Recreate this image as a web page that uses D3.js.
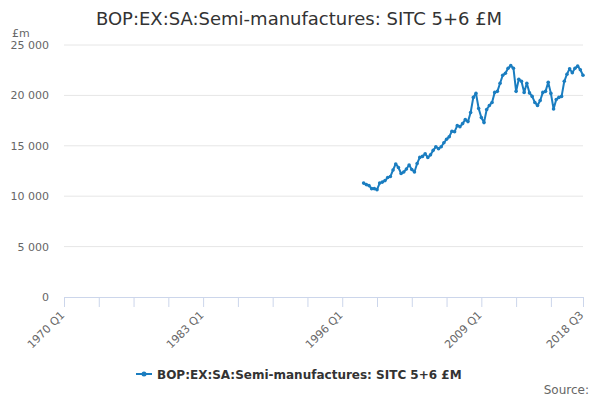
<!DOCTYPE html>
<html><head><meta charset="utf-8">
<script src="https://cdn.jsdelivr.net/npm/d3@7"></script>
<style>body{margin:0;background:#fff}svg{display:block;font-family:"DejaVu Sans",sans-serif}</style>
</head><body><svg id="c" width="600" height="400"></svg>
<script>
const title = "BOP:EX:SA:Semi-manufactures: SITC 5+6 £M";
const seriesName = "BOP:EX:SA:Semi-manufactures: SITC 5+6 £M";
const startYear = 1970, endYear = 2018, endQuarter = 3;
const dataStart = "1998 Q1";
const values = [
 11300,11150,11050,10750,10750,10650,11300,11400,11550,11850,
 11950,12600,13200,12850,12250,12400,12700,13100,12650,12400,
 13250,13850,13950,14200,13850,14100,14550,14900,14700,14900,
 15300,15650,15900,16450,16400,17000,16900,17200,17600,17400,
 18300,19800,20200,18700,17800,17300,18600,19000,19300,20300,
 20400,21200,22000,22200,22700,22950,22700,20400,21600,21400,
 20300,21200,20250,19900,19300,19000,19500,20300,20400,21300,
 20200,18650,19600,19800,19900,21400,22100,22650,22250,22700,
 22900,22550,22000
];
const yTicks = [0,5000,10000,15000,20000,25000];
const xLabelTicks = ["1970 Q1","1983 Q1","1996 Q1","2009 Q1","2018 Q3"];
const yUnit = "£m";
const source = "Source:";

const categories = [];
for (let y = startYear; y <= endYear; y++) for (let q = 1; q <= 4; q++) {
  if (y === endYear && q > endQuarter) break;
  categories.push(y + " Q" + q);
}
const startIdx = categories.indexOf(dataStart);
const data = values.map((v, i) => ({cat: categories[startIdx + i], v}));

const svg = d3.select("#c");
const L = 64, R = 583, T = 45, B = 297;
const x = d3.scalePoint().domain(categories).range([L, R]);
const y = d3.scaleLinear().domain([0, 25000]).range([B, T]);
const fmt = v => d3.format(",")(v).replace(/,/g, " ");

svg.append("text").attr("x", 299).attr("y", 25).attr("text-anchor", "middle")
  .attr("fill", "#333").style("font-size", "18px").text(title);

// grid
svg.append("g").selectAll("line").data(yTicks.filter(t => t > 0)).join("line")
  .attr("x1", L).attr("x2", R).attr("y1", d => y(d)).attr("y2", d => y(d))
  .attr("stroke", "#e6e6e6").attr("stroke-width", 1);

const yAxis = svg.append("g").attr("transform", `translate(${L},0)`)
  .call(d3.axisLeft(y).tickValues(yTicks).tickFormat(fmt).tickSize(0).tickPadding(15));
yAxis.select(".domain").remove();
yAxis.selectAll("text").attr("fill", "#666").style("font-size", "11px").style("font-family", "DejaVu Sans");

svg.append("text").attr("x", 12).attr("y", 37).attr("fill", "#666")
  .style("font-size", "11px").text(yUnit);

// x axis
const tickCats = categories.filter((c, i) => i % 13 === 0 || i === categories.length - 1);
const xAxis = svg.append("g").attr("transform", `translate(0,${B})`)
  .call(d3.axisBottom(x).tickValues(tickCats).tickSize(10).tickSizeOuter(0)
    .tickFormat(d => xLabelTicks.includes(d) ? d : ""));
xAxis.select(".domain").attr("stroke", "#ccd6eb").attr("d", `M${L},0.5H${R+1}`);
xAxis.selectAll(".tick line").attr("stroke", "#ccd6eb");
xAxis.selectAll(".tick text").attr("fill", "#666").style("font-size", "11px")
  .style("font-family", "DejaVu Sans")
  .attr("text-anchor", "end").attr("dy", "0.35em")
  .attr("transform", "translate(-2,16) rotate(-45)").attr("y", 0).attr("x", 0);

// line
const color = "#1a7dc0";
const line = d3.line().x(d => x(d.cat)).y(d => y(d.v));
svg.append("path").datum(data).attr("d", line).attr("fill", "none")
  .attr("stroke", color).attr("stroke-width", 2).attr("stroke-linejoin", "round");
svg.append("g").selectAll("circle").data(data).join("circle")
  .attr("cx", d => x(d.cat)).attr("cy", d => y(d.v)).attr("r", 1.8).attr("fill", color);

// legend
const lg = svg.append("g").attr("transform", "translate(136,374)");
lg.append("line").attr("x1", 0).attr("x2", 16).attr("y1", 0).attr("y2", 0)
  .attr("stroke", color).attr("stroke-width", 2);
lg.append("circle").attr("cx", 8).attr("cy", 0).attr("r", 2.5).attr("fill", color);
lg.append("text").attr("x", 21).attr("y", 4.5).attr("fill", "#333")
  .style("font-size", "12px").style("font-weight", "bold").text(seriesName);

svg.append("text").attr("x", 589).attr("y", 394).attr("text-anchor", "end")
  .attr("fill", "#666").style("font-size", "12px").text(source);
</script></body></html>
